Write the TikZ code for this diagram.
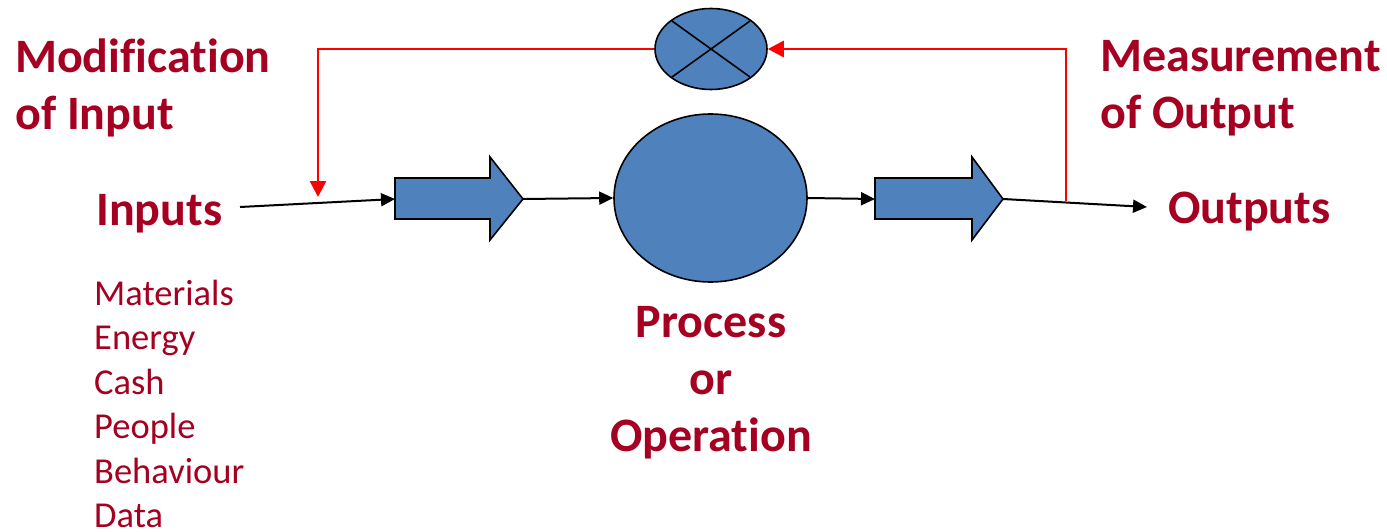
\documentclass[tikz,border=0pt]{standalone}
\usepackage{fontspec}
\setmainfont{Carlito}[Ligatures=NoCommon]
\usetikzlibrary{arrows.meta,shapes.geometric,calc}
\definecolor{txtred}{HTML}{A50021}
\definecolor{fillblue}{HTML}{4F81BD}
\tikzset{
  bigtxt/.style={text=txtred, font=\fontsize{48}{57}\selectfont\bfseries, inner sep=0pt},
  smalltxt/.style={text=txtred, font=\fontsize{36.5}{44.4}\selectfont, inner sep=0pt},
  blueshape/.style={draw=black, fill=fillblue, line width=1.6pt},
  flow/.style={draw=black, line width=2pt, -{Triangle[length=14pt,width=13pt]}},
  feedback/.style={draw=red, line width=2.8pt},
  feedarrow/.style={feedback, -{Triangle[length=16pt,width=16pt]}}
}
\begin{document}
\begin{tikzpicture}[x=1pt,y=-1pt]
\useasboundingbox (0,0) rectangle (1387,532);
% process circle
\node[ellipse, blueshape, minimum width=193pt, minimum height=168pt, inner sep=0pt] (proc) at (710.5,198) {};
% comparator
\node[ellipse, blueshape, minimum width=112pt, minimum height=81pt, inner sep=0pt] (comp) at (711,49) {};
\draw[line width=1.6pt] ($(comp.center)+(-39,-28)$) -- ($(comp.center)+(39,28)$);
\draw[line width=1.6pt] ($(comp.center)+(39,-28)$) -- ($(comp.center)+(-39,28)$);
% block arrows
\coordinate (latail) at (395,199);
\coordinate (latip) at (523,199);
\draw[blueshape] (395,178) -- (490,178) -- (490,157) -- (latip) -- (490,240) -- (490,219) -- (395,219) -- cycle;
\coordinate (ratail) at (875,199);
\coordinate (ratip) at (1003,199);
\draw[blueshape] (875,178) -- (972,178) -- (972,157) -- (ratip) -- (972,240) -- (972,219) -- (875,219) -- cycle;
% connectors
\coordinate (instart) at (240,207);
\coordinate (outend) at (1147,207);
\draw[flow] (instart) -- (latail);
\draw[flow] (latip) -- (proc.west);
\draw[flow] (proc.east) -- (ratail);
\draw[flow] (ratip) -- (outend);
% feedback
\coordinate (fbleft) at (318,49);
\coordinate (fbdown) at (318,197);
\coordinate (fbstart) at (1066,201);
\coordinate (fbright) at (1066,49);
\draw[feedarrow] (comp.west) -- (fbleft) -- (fbdown);
\draw[feedarrow] (fbstart) -- (fbright) -- (comp.east);
% texts
\node[bigtxt, anchor=base west] (modif) at (15,73) {Modification};
\node[bigtxt, anchor=base west] (modif2) at (15,130) {of Input};
\node[bigtxt, anchor=base west] (meas) at (1100,72) {Measurement};
\node[bigtxt, anchor=base west] (meas2) at (1100,129) {of Output};
\node[bigtxt, anchor=base west] (inp) at (96,225) {Inputs};
\node[bigtxt, anchor=base west] (outp) at (1168,223) {Outputs};
\node[bigtxt, align=center, anchor=center] (proctxt) at (711,383) {Process\\or\\Operation};
\node[smalltxt, align=left, anchor=north west] (list) at (94,280) {Materials\\Energy\\Cash\\People\\Behaviour\\Data};
\end{tikzpicture}
\end{document}
